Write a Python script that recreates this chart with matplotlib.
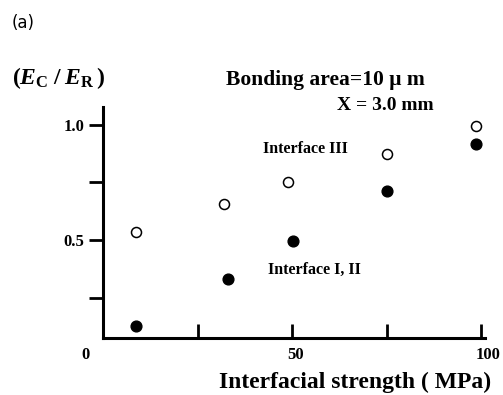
import matplotlib
matplotlib.use("Agg")
import matplotlib.pyplot as plt
import matplotlib.transforms as mtransforms

# ---- data ----
strength_open = [8.6, 32.0, 49.0, 75.0, 98.7]       # Interface III
ratio_open = [0.536, 0.657, 0.753, 0.874, 0.997]
strength_filled = [8.6, 33.0, 50.3, 75.0, 98.7]     # Interface I, II
ratio_filled = [0.127, 0.330, 0.497, 0.714, 0.917]

xtick_pos = [25, 50, 75, 100]
xlabel_pos = [0, 50, 100]
xlabel_txt = ["0", "50", "100"]
ytick_pos = [0.25, 0.5, 0.75, 1.0]
ytick_txt = ["", "0.5", "", "1.0"]

plt.rcParams['mathtext.fontset'] = 'custom'
plt.rcParams['mathtext.rm'] = 'Liberation Serif:bold'
plt.rcParams['mathtext.it'] = 'Liberation Serif:bold:italic'
plt.rcParams['mathtext.bf'] = 'Liberation Serif:bold'

W, H = 503, 395
fig = plt.figure(figsize=(W / 100, H / 100), dpi=100)
ax = fig.add_axes([102.7 / W, (H - 338) / H, (485 - 102.7) / W, (338 - 107) / H])

ax.scatter(strength_open, ratio_open, s=52, facecolor='white', edgecolor='black',
           linewidth=1.1, zorder=3, clip_on=False)
ax.scatter(strength_filled, ratio_filled, s=60, facecolor='black', edgecolor='black',
           linewidth=1.0, zorder=3, clip_on=False)

ax.set_xlim(-0.2, 101.1)
ax.set_ylim(0.074, 1.078)

for s in ['top', 'right']:
    ax.spines[s].set_visible(False)
for s in ['left', 'bottom']:
    ax.spines[s].set_linewidth(2.2)

ax.set_xticks(xtick_pos)
ax.set_xticklabels([])
ax.tick_params(axis='x', direction='in', length=10, width=2.0)
ax.set_yticks(ytick_pos)
ax.set_yticklabels(ytick_txt, fontfamily='Liberation Serif', fontweight='bold', fontsize=12)
ax.tick_params(axis='y', direction='out', length=10, width=2.0, pad=3)

serif = dict(fontfamily='Liberation Serif', fontweight='bold', color='black')

# x tick labels (placed manually, as in the original)
xoffs = [-18, 3, 7]
for pos, txt, dx in zip(xlabel_pos, xlabel_txt, xoffs):
    tr = ax.get_xaxis_transform() + mtransforms.ScaledTranslation(dx / 100, 0, fig.dpi_scale_trans)
    ax.text(pos, -0.075, txt, transform=tr, ha='center', va='center', fontsize=12, **serif)

fig.text(355 / W, 1 - 382 / H, "Interfacial strength ( MPa)", ha='center', va='center',
         fontsize=17, **serif)
fig.text(12 / W, 1 - 78 / H, r"$(\mathit{E}_{\mathrm{C}}\;/\;\mathit{E}_{\mathrm{R}}\,)$",
         ha='left', va='center', fontsize=17, color='black')
fig.text(12 / W, 1 - 23 / H, "(a)", ha='left', va='center', fontsize=12,
         fontfamily='DejaVu Sans', color='black')
fig.text(325 / W, 1 - 80 / H, "Bonding area=10 μ m", ha='center', va='center',
         fontsize=15.5, **serif)
fig.text(385 / W, 1 - 105 / H, "X = 3.0 mm", ha='center', va='center',
         fontsize=14, **serif)
fig.text(305 / W, 1 - 149 / H, "Interface III", ha='center', va='center',
         fontsize=11.5, **serif)
fig.text(268 / W, 1 - 270 / H, "Interface I, II", ha='left', va='center',
         fontsize=11.5, **serif)

fig.savefig("out.png", dpi=100)
